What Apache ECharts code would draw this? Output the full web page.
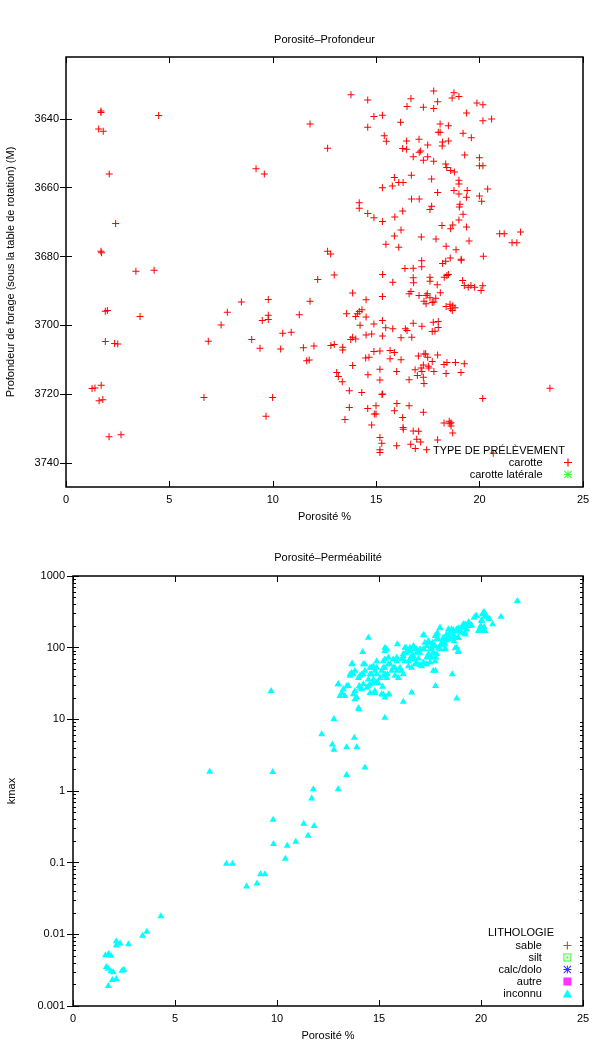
<!DOCTYPE html>
<html><head><meta charset="utf-8">
<script src="https://cdn.jsdelivr.net/npm/echarts@6/dist/echarts.min.js"></script>
<style>html,body{margin:0;padding:0;background:#fff}#c{width:604px;height:1044px}</style>
</head><body><div id="c"></div><script>
// ---------- DATA ----------
const porosityTicks = [0, 5, 10, 15, 20, 25];
const depthTicks = [3640, 3660, 3680, 3700, 3720, 3740];
const kTicks = [0.001, 0.01, 0.1, 1, 10, 100, 1000];
const kMinorTicks = [0.002,0.003,0.004,0.005,0.006,0.007,0.008,0.009,
  0.02,0.03,0.04,0.05,0.06,0.07,0.08,0.09,
  0.2,0.3,0.4,0.5,0.6,0.7,0.8,0.9,
  2,3,4,5,6,7,8,9, 20,30,40,50,60,70,80,90, 200,300,400,500,600,700,800,900];

// Porosité (%) , Profondeur (M) — type "carotte"
const carottePoints = [
[1.69,3637.7],[1.69,3638.1],[4.48,3639],[1.58,3642.9],[1.80,3643.6],[2.09,3656],[2.40,3670.4],
[1.69,3678.5],[1.72,3678.9],[3.38,3684.3],[4.26,3684],[2.0,3695.7],[1.9,3695.9],[3.58,3697.4],
[1.90,3704.7],[2.35,3705.3],[2.50,3705.4],[1.40,3718.2],[1.26,3718.4],[1.70,3717.4],[1.60,3721.9],
[1.78,3721.6],[2.08,3732.4],[2.66,3731.8],
[9.19,3654.5],[9.59,3656],[11.80,3641.5],[12.65,3648.5],[12.65,3678.5],[12.80,3679.3],[12.17,3686.7],
[12.97,3685.4],[8.48,3693.2],[9.78,3692.5],[11.80,3693],[7.80,3696.2],[7.50,3699.9],[9.78,3697.1],
[9.78,3698.3],[9.49,3698.6],[11.28,3696.9],[10.48,3702.3],[10.89,3702],[6.88,3704.6],[8.98,3704.1],
[9.38,3706.7],[10.38,3706.9],[11.48,3706.5],[11.99,3706],[11.64,3710.3],[11.76,3710.1],[6.67,3721],
[9.99,3721],[9.67,3726.4],
[13.78,3633],[14.59,3634.5],[16.68,3634.1],[17.78,3631.9],[18.76,3632.4],[19.0,3633.5],[18.67,3633.9],
[17.97,3635],[16.49,3636.4],[17.28,3636.6],[17.78,3637],[19.87,3635.4],[20.16,3635.9],[14.89,3639.3],
[15.30,3638.9],[19.37,3638.3],[14.59,3642.4],[16.18,3641],[18.09,3641.5],[18.49,3642],[20.16,3640.5],
[20.58,3640],[15.39,3644.9],[15.49,3646.5],[16.47,3646.4],[17.07,3645.9],[17.49,3647.6],[18.0,3643.9],
[18.09,3643.9],[18.21,3646.7],[18.19,3647.9],[18.49,3646.4],[19.2,3644.2],[19.6,3645.5],[16.28,3648.6],
[16.47,3648.8],[16.79,3651],[17.08,3649.7],[17.15,3649.3],[17.28,3652],[17.49,3651],[17.78,3652.3],
[19.28,3650.5],[19.99,3651.3],[19.99,3653.6],[20.16,3653.6],[18.36,3653.1],[18.41,3654.1],[18.6,3655],
[18.78,3655.4],[15.88,3657],[16.09,3658.5],[16.3,3658.5],[16.7,3656.4],[17.68,3657.5],[15.3,3660],
[15.78,3659.5],[19.0,3657.8],[19.0,3658.9],[17.97,3661.4],[18.76,3660.8],[19.0,3661.8],[19.4,3660.8],
[19.37,3662.8],[19.99,3662.4],[20.39,3660.4],[20.1,3663.9],[14.18,3664.4],[14.18,3666],[14.59,3667.5],
[14.89,3668.7],[15.3,3669.8],[15.9,3668.5],[16.28,3666.8],[16.71,3663.3],[17.08,3663.3],[17.68,3665.4],
[17.6,3666.3],[19.02,3665.6],[19.05,3664.8],[19.2,3667.7],[19.0,3669.4],[18.18,3671],[18.6,3671.9],
[18.7,3670.8],[19.37,3671.4],[16.2,3672.3],[15.88,3674],[15.47,3676.4],[16.09,3677.3],[17.18,3674.3],
[17.89,3674.9],[18.38,3677],[18.86,3678],[19.49,3675.5],[20.97,3673.4],[21.19,3673.4],[21.57,3676],
[21.8,3676],[21.98,3672.9],[17.2,3681.2],[16.79,3683.4],[16.39,3683.5],[17.2,3683],[18.21,3682],
[18.36,3681.4],[18.58,3680.4],[19.11,3680.8],[19.11,3681.1],[20.18,3679.9],[15.31,3685.2],[15.8,3687.5],
[16.79,3686.2],[16.81,3687.6],[17.6,3686],[17.6,3687.2],[17.95,3688.2],[18.29,3686],[18.42,3685.5],
[18.49,3685.2],[19.18,3687],[19.26,3688.4],[19.45,3688.9],[19.58,3688.4],[19.76,3688.9],[20.15,3688.5],
[20.07,3689.9],[13.86,3690.6],[14.51,3692.6],[15.3,3691.6],[16.59,3690.8],[16.68,3690.2],[17.07,3691.3],
[17.41,3691.3],[17.47,3690.8],[17.6,3692],[17.31,3693],[17.41,3693.7],[17.71,3693.4],[17.79,3693.2],
[17.88,3692.1],[18.1,3690.5],[18.38,3694.5],[18.57,3693.9],[18.7,3694.3],[18.81,3694.9],[18.68,3695.7],
[18.6,3695.2],[13.57,3696.6],[14.01,3697.4],[14.09,3696.6],[14.18,3696],[14.31,3695.5],[14.51,3697.6],
[14.89,3699.6],[15.3,3698.6],[15.46,3700.7],[15.8,3701],[15.3,3703.1],[14.22,3700],[16.41,3701],
[16.49,3701.5],[16.72,3703.5],[16.2,3703.6],[16.79,3699.4],[17.21,3700.3],[17.76,3699.1],[18.0,3698.9],
[17.84,3701.7],[17.71,3701.8],[18.0,3700.6],[13.77,3704.1],[13.86,3703.5],[14.01,3704],[14.51,3702.8],
[14.78,3702.5],[12.81,3705.9],[12.97,3705.6],[13.38,3706.4],[13.38,3707.2],[13.86,3711.7],[14.49,3709.5],
[14.65,3709.3],[14.89,3707.6],[15.18,3707.5],[15.67,3707.3],[15.88,3707.9],[15.67,3709.7],[16.2,3710],
[15.99,3713.4],[17.04,3708.9],[17.31,3708.3],[17.39,3708.3],[17.49,3709.3],[17.97,3708.6],[16.88,3712.9],
[17.17,3712.4],[17.28,3711.5],[17.52,3711.9],[17.55,3712.4],[17.79,3713.4],[17.21,3713.4],[16.99,3714.6],
[17.28,3715.1],[17.31,3716.9],[17.71,3710.5],[18.28,3711.4],[18.42,3710.8],[18.83,3710.8],[19.26,3711.2],
[18.38,3714],[19.1,3713.7],[13.09,3713.7],[13.17,3714.9],[13.36,3716.4],[14.6,3714.4],[15.18,3712.8],
[15.18,3715.9],[15.28,3720.1],[15.31,3720],[16.59,3715.8],[13.7,3719],[14.3,3719.5],[13.7,3723.9],
[13.49,3727.4],[14.59,3724.2],[14.99,3723.4],[14.99,3725.8],[14.91,3725.8],[14.78,3729],[16.0,3722.7],
[15.88,3724.8],[16.59,3723.4],[16.28,3726.8],[16.3,3729.7],[16.31,3730.2],[17.28,3725.3],[15.18,3732.6],
[15.27,3734.3],[15.18,3736.2],[15.18,3737],[15.99,3735],[16.79,3730.7],[17.05,3730.8],[16.96,3733.1],
[17.15,3733.9],[16.67,3734.6],[16.89,3735.8],[17.44,3736.2],[17.97,3733.3],[18.28,3728.4],[18.53,3727.9],
[18.62,3728.3],[18.62,3729.3],[18.7,3731.3],[18.57,3728.6],[20.15,3721.3],[23.4,3718.3],[20.66,3737.2]
];
const caroteLateralePoints = [];

// Porosité (%) , kmax — lithologie "inconnu"
const inconnuPoints = [
[1.59,0.00526],[1.74,0.0055],[1.86,0.0052],[1.63,0.00361],[1.73,0.00343],[1.86,0.00315],[1.97,0.00305],
[2.40,0.00321],[2.49,0.00332],[1.93,0.00238],[2.12,0.00246],[1.73,0.00196],[2.12,0.0083],[2.12,0.0072],
[2.31,0.0077],[2.72,0.0075],[3.41,0.0099],[3.62,0.0112],[4.31,0.0184],[7.52,0.1],[7.82,0.1],[8.51,0.048],
[9.02,0.053],[9.19,0.071],[9.41,0.071],[10.41,0.117],[9.83,0.188],[10.5,0.178],[10.92,0.203],[11.52,0.246],
[9.81,0.411],[11.31,0.361],[11.82,0.336],[6.7,1.92],[9.79,1.9],[9.71,25.7],[11.7,0.81],[11.78,1.09],
[13.0,1.09],[13.41,1.73],[14.31,2.19],[12.71,4.6],[12.79,3.9],[13.41,4.2],[13.91,4.2],[13.79,5.7],
[12.19,6.4],[12.79,10.4],[15.29,10.9],[13.99,14.7],
[21.78,462],[20.98,279],[20.57,219],[20.11,318],[20.2,286],[20.36,262],[19.74,286],[20.03,243],[19.95,192],
[20.08,181],[19.92,181],[20.15,201],[19.41,231],[19.3,207],[19.54,212],[19.13,219],[19.05,196],[19.22,167],
[18.89,192],[18.81,173],[18.64,158],[18.4,150],[18.84,142],[18.56,142],[18.31,131],[18.15,128],[17.99,192],
[18.4,186],[18.64,182],[17.83,158],[17.83,135],[17.63,121],[18.07,113],[18.24,101],[18.73,101],[18.89,90],
[17.17,155],[17.45,121],[17.34,109],[17.21,98],[17.01,98],[17.58,103],[17.66,88],[17.42,84],[17.75,109],
[17.91,103],[17.25,121],[16.69,109],[16.76,98],[16.52,93],[16.36,88],[16.32,103],[16.85,88],[16.6,79],
[16.19,79],[16.68,71],[16.44,67],[16.76,60.5],[17.01,59],[17.34,60.5],[17.17,64],[16.93,73],[17.58,75],
[17.75,67],[16.27,67],[16.11,71],[15.9,115],[15.34,98],[15.29,93],[15.46,75],[15.7,71],[15.87,67],
[15.54,60.5],[15.78,54],[16.03,54],[16.19,44],[15.87,49],[15.95,39],[15.62,49],[15.21,67],[15.29,54],
[15.13,49],[15.21,42],[15.41,44],[14.48,142],[14.2,90],[13.69,61.8],[13.66,46],[13.58,44],[13.82,49],
[13.99,39],[14.23,60.5],[14.31,49],[14.15,44],[14.56,54],[14.64,44],[14.48,37],[14.8,49],[14.89,44],
[14.72,37],[14.89,33.6],[15.05,39],[14.56,31.8],[14.4,28.6],[14.15,27.1],[14.03,30.2],[13.82,25.7],
[13.74,23.1],[13.91,20.8],[13.5,30.2],[13.25,27.1],[13.09,21.9],[13.0,31.8],[13.33,21.9],[14.8,25.7],
[15.13,23.1],[15.29,20.8],[15.49,23.1],[16.19,18.2],[16.6,24.4],[17.77,30.2],[17.77,49],[18.59,44],
[18.81,20.1],
[20.15,325],[20.08,302],[20.28,279],[20.41,262],[20.03,251],[19.79,286],[19.66,271],[19.98,207],[20.11,186],
[19.87,177],[20.2,177],[19.38,231],[19.46,207],[19.22,219],[19.1,196],[19.3,186],[19.05,167],[19.22,158],
[18.94,177],[18.81,186],[18.56,186],[18.48,167],[18.64,150],[18.31,158],[18.15,142],[17.99,196],[17.86,167],
[17.75,150],[17.91,135],[18.07,121],[18.24,115],[18.4,135],[18.68,128],[18.89,142],[18.81,103],[18.89,93],
[18.24,98],[17.66,115],[17.5,98],[17.17,98],[17.21,154],[17.42,128],[17.99,98],[17.83,84],[17.66,88],
[17.5,79],[17.34,75],[17.79,75],[17.01,88],[16.85,98],[16.68,79],[16.52,71],[16.44,57],[16.6,54],
[16.85,64],[17.09,57],[17.25,60.5],[17.5,64],[17.66,49],[15.29,103],[15.38,98],[16.27,103],[16.36,93],
[16.19,84],[16.52,103],[15.87,75],[15.29,71],[14.89,67],[14.72,57],[14.31,60.5],[14.64,54],[14.89,54],
[15.21,54],[15.7,54],[16.11,49],[15.46,60.5],[15.29,44],[15.38,39],[15.78,42],[14.56,44],[14.23,44],
[14.07,42],[13.66,60.5],[13.74,44],[13.58,42],[13.0,32],[13.41,30],[13.17,24],[14.07,28.6],[14.23,32],
[14.48,30],[14.72,33],[14.97,33],[15.18,29.5],[14.56,24],[14.8,24],[15.21,23],[15.46,23],[13.82,19.7],
[14.03,14.3]
];
const sablePoints = [], siltPoints = [], calcDoloPoints = [], autrePoints = [];

// ---------- STYLE ----------
const FONT = 'Liberation Sans, Arial, Helvetica, sans-serif';
const PLUS = 'path://M4.29,0h1.43v10h-1.43z M0,4.29h10v1.43h-10z';
const STAR = 'path://M4.4,0h1.2v10h-1.2z M0,4.4h10v1.2h-10z M0,0.85L0.85,0L10,9.15L9.15,10z M9.15,0L10,0.85L0.85,10L0,9.15z';
const BOXDOT = 'path://M0,0h10v10h-10z M1.3,1.3v7.4h7.4v-7.4z M3.8,3.8h2.4v2.4h-2.4z';
const BOX = 'path://M0,0h10v10h-10z';
const TRI = 'path://M5,0L10,8.66L0,8.66z';

const txt = {color: '#000', fontSize: 11, fontFamily: FONT};
const tickStyle = {show: true, inside: true, length: 6, lineStyle: {color: '#000', width: 1}};
const plainNum = v => String(+Number(v).toPrecision(6));

function xAx(grid, labels) {
  return {type: 'value', gridIndex: grid, min: 0, max: 25, interval: 5,
    position: labels ? 'bottom' : 'top',
    name: labels ? 'Porosité %' : '', nameLocation: 'middle', nameGap: 24, nameTextStyle: txt,
    axisLine: {show: false}, splitLine: {show: false},
    axisTick: Object.assign({customValues: porosityTicks}, tickStyle),
    axisLabel: {show: labels, customValues: porosityTicks, margin: 7, color: '#000', fontSize: 11,
      fontFamily: FONT, formatter: plainNum}};
}

const option = {
  animation: false,
  backgroundColor: '#fff',
  textStyle: {fontFamily: FONT},
  title: [
    {text: 'Porosité–Profondeur', left: 324.5, top: 34, textAlign: 'center', padding: 0,
      textStyle: {color: '#000', fontSize: 11, fontWeight: 'normal', fontFamily: FONT}},
    {text: 'Porosité–Perméabilité', left: 328, top: 552, textAlign: 'center', padding: 0,
      textStyle: {color: '#000', fontSize: 11, fontWeight: 'normal', fontFamily: FONT}},
    {text: 'TYPE DE PRÉLÈVEMENT', left: 565, top: 445, textAlign: 'right', padding: 0,
      textStyle: {color: '#000', fontSize: 11, fontWeight: 'normal', fontFamily: FONT}},
    {text: 'LITHOLOGIE', left: 554, top: 927, textAlign: 'right', padding: 0,
      textStyle: {color: '#000', fontSize: 11, fontWeight: 'normal', fontFamily: FONT}}
  ],
  grid: [
    {left: 66, top: 57, width: 517, height: 430, show: true, borderColor: '#000', borderWidth: 1.5,
      backgroundColor: 'transparent', outerBoundsMode: 'none', containLabel: false},
    {left: 73, top: 576, width: 510, height: 430, show: true, borderColor: '#000', borderWidth: 1.5,
      backgroundColor: 'transparent', outerBoundsMode: 'none', containLabel: false}
  ],
  legend: [
    {orient: 'vertical', align: 'right', right: 32, top: 457, padding: 0, itemWidth: 41, itemHeight: 8,
      itemGap: 1, selectedMode: false, textStyle: txt, data: ['carotte', 'carotte latérale']},
    {orient: 'vertical', align: 'right', right: 32, top: 940, padding: 0, itemWidth: 41, itemHeight: 8,
      itemGap: 1, selectedMode: false, textStyle: txt, data: ['sable', 'silt', 'calc/dolo', 'autre', 'inconnu']}
  ],
  xAxis: [xAx(0, true), xAx(0, false), xAx(1, true), xAx(1, false)],
  yAxis: [
    {type: 'value', gridIndex: 0, inverse: true, min: 3622, max: 3747, position: 'left',
      name: 'Profondeur de forage (sous la table de rotation) (M)', nameLocation: 'middle', nameGap: 50,
      nameTextStyle: txt, axisLine: {show: false}, splitLine: {show: false},
      axisTick: Object.assign({customValues: depthTicks}, tickStyle),
      axisLabel: {customValues: depthTicks, margin: 7, color: '#000', fontSize: 11, fontFamily: FONT,
        formatter: plainNum}},
    {type: 'value', gridIndex: 0, inverse: true, min: 3622, max: 3747, position: 'right',
      axisLine: {show: false}, splitLine: {show: false},
      axisTick: Object.assign({customValues: depthTicks}, tickStyle), axisLabel: {show: false}},
    {type: 'log', logBase: 10, gridIndex: 1, min: 0.001, max: 1000, position: 'left',
      name: 'kmax', nameLocation: 'middle', nameGap: 56, nameTextStyle: txt,
      axisLine: {show: false}, splitLine: {show: false}, minorTick: {show: false},
      axisTick: Object.assign({customValues: kTicks}, tickStyle),
      axisLabel: {customValues: kTicks, margin: 8, color: '#000', fontSize: 11, fontFamily: FONT,
        formatter: plainNum}},
    {type: 'log', logBase: 10, gridIndex: 1, min: 0.001, max: 1000, position: 'right',
      axisLine: {show: false}, splitLine: {show: false},
      axisTick: Object.assign({customValues: kTicks}, tickStyle), axisLabel: {show: false}},
    {type: 'log', logBase: 10, gridIndex: 1, min: 0.001, max: 1000, position: 'left',
      axisLine: {show: false}, splitLine: {show: false},
      axisTick: {show: true, inside: true, length: 3, customValues: kMinorTicks, lineStyle: {color: '#000', width: 1}},
      axisLabel: {show: false}},
    {type: 'log', logBase: 10, gridIndex: 1, min: 0.001, max: 1000, position: 'right',
      axisLine: {show: false}, splitLine: {show: false},
      axisTick: {show: true, inside: true, length: 3, customValues: kMinorTicks, lineStyle: {color: '#000', width: 1}},
      axisLabel: {show: false}}
  ],
  series: [
    {type: 'scatter', name: 'carotte', xAxisIndex: 0, yAxisIndex: 0, data: carottePoints,
      symbol: PLUS, symbolSize: 7, itemStyle: {color: '#ff0000', opacity: 1}, silent: true},
    {type: 'scatter', name: 'carotte latérale', xAxisIndex: 0, yAxisIndex: 0, data: caroteLateralePoints,
      symbol: STAR, symbolSize: 7, itemStyle: {color: '#00ff00'}, silent: true},
    {type: 'scatter', name: 'sable', xAxisIndex: 2, yAxisIndex: 2, data: sablePoints,
      symbol: PLUS, symbolSize: 7, itemStyle: {color: '#ff0000'}, silent: true},
    {type: 'scatter', name: 'silt', xAxisIndex: 2, yAxisIndex: 2, data: siltPoints,
      symbol: BOXDOT, symbolSize: 7, itemStyle: {color: '#00ff00'}, silent: true},
    {type: 'scatter', name: 'calc/dolo', xAxisIndex: 2, yAxisIndex: 2, data: calcDoloPoints,
      symbol: STAR, symbolSize: 7, itemStyle: {color: '#0000ff'}, silent: true},
    {type: 'scatter', name: 'autre', xAxisIndex: 2, yAxisIndex: 2, data: autrePoints,
      symbol: BOX, symbolSize: 6, itemStyle: {color: '#ff00ff'}, silent: true},
    {type: 'scatter', name: 'inconnu', xAxisIndex: 2, yAxisIndex: 2, data: inconnuPoints,
      symbol: TRI, symbolSize: [7, 6], itemStyle: {color: '#00ffff', opacity: 1}, silent: true}
  ]
};
const chart = echarts.init(document.getElementById('c'), null, {renderer: 'canvas'});
chart.setOption(option);
</script></body></html>
